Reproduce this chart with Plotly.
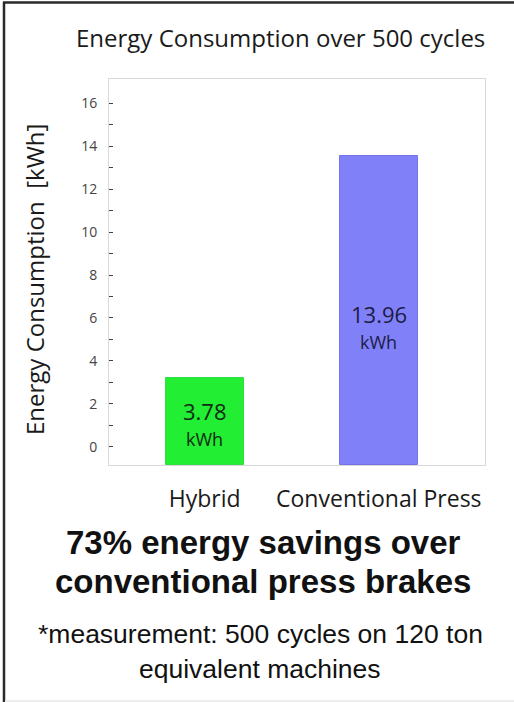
import plotly.graph_objects as go

# ---- data ----
categories = ["Hybrid", "Conventional Press"]
bar_tops = [3.2, 13.56]           # bar top as drawn on the axis
value_labels = ["3.78", "13.96"]  # printed values
unit_label = "kWh"
bar_colors = ["#22EE33", "#8080F8"]
bar_line_colors = ["#33DD44", "#7474E8"]
label_colors = ["#0E2A12", "#1C1C44"]
y_tick_vals = [0, 2, 4, 6, 8, 10, 12, 14, 16]
y_minor_vals = [1, 3, 5, 7, 9, 11, 13, 15]

title_text = "Energy Consumption over 500 cycles"
y_title = "Energy Consumption  [kWh]"
headline = ["73% energy savings over", "conventional press brakes"]
footnote = ["*measurement: 500 cycles on 120 ton", "equivalent machines"]

Y_MIN, Y_MAX = -0.85, 17.13
W, H = 514, 702
L, R, T, B = 109, 485, 79, 465

fig = go.Figure()
fig.add_trace(go.Bar(
    x=categories,
    y=[v - Y_MIN for v in bar_tops],
    base=Y_MIN,
    width=0.448,
    marker=dict(color=bar_colors, line=dict(color=bar_line_colors, width=1)),
    hoverinfo="skip",
    showlegend=False,
))

myriad = "Open Sans, Noto Sans, sans-serif"
arial = "Liberation Sans, Arial, sans-serif"

# bar value labels (number + unit)
label_y = [1.66, 6.2]
for i, cat in enumerate(categories):
    fig.add_annotation(x=cat, y=label_y[i], xref="x", yref="y",
                       text=value_labels[i], showarrow=False,
                       font=dict(family=myriad, size=22, color=label_colors[i]),
                       yanchor="middle", yshift=0)
    fig.add_annotation(x=cat, y=label_y[i], xref="x", yref="y",
                       text=unit_label, showarrow=False,
                       font=dict(family=myriad, size=18, color=label_colors[i]),
                       yanchor="middle", yshift=-28)

# paper coords are relative to the plot area: convert from figure pixels
def px_x(p):
    return (p - L) / (R - L)

def px_y(p):
    return (B - p) / (B - T)

# title
fig.add_annotation(x=px_x(280), y=px_y(37), xref="paper", yref="paper",
                   text=title_text, showarrow=False, xanchor="center", yanchor="middle",
                   font=dict(family=myriad, size=24, color="#1a1a1a"))
# y axis title
fig.add_annotation(x=px_x(34), y=px_y(280), xref="paper", yref="paper",
                   text=y_title, showarrow=False, textangle=-90,
                   xanchor="center", yanchor="middle",
                   font=dict(family=myriad, size=24, color="#1a1a1a"))
# headline
for txt, yy in zip(headline, [542, 581]):
    fig.add_annotation(x=px_x(263), y=px_y(yy), xref="paper", yref="paper",
                       text="<b>" + txt + "</b>", showarrow=False,
                       xanchor="center", yanchor="middle",
                       font=dict(family=arial, size=33, color="#111111"))
# footnote
for txt, yy in zip(footnote, [634, 669]):
    fig.add_annotation(x=px_x(260), y=px_y(yy), xref="paper", yref="paper",
                       text=txt, showarrow=False,
                       xanchor="center", yanchor="middle",
                       font=dict(family=arial, size=26.5, color="#111111"))

# outer frame: left and top dark lines, faint bottom line
fig.add_shape(type="line", xref="paper", yref="paper", x0=px_x(4), x1=px_x(4), y0=px_y(H), y1=px_y(2),
              line=dict(color="#2a2a2a", width=2.5))
fig.add_shape(type="line", xref="paper", yref="paper", x0=px_x(3), x1=px_x(W), y0=px_y(2.5), y1=px_y(2.5),
              line=dict(color="#2a2a2a", width=2.5))
fig.add_shape(type="line", xref="paper", yref="paper", x0=px_x(5), x1=px_x(W), y0=px_y(701), y1=px_y(701),
              line=dict(color="#ececec", width=2))

fig.update_layout(
    width=W, height=H,
    margin=dict(l=L, r=W - R, t=T, b=H - B, pad=0),
    paper_bgcolor="white", plot_bgcolor="white",
    bargap=0,
    xaxis=dict(
        range=[-0.55, 1.61],
        showgrid=False, zeroline=False,
        showline=True, linecolor="#d8d8d8", linewidth=1, mirror=True,
        ticks="", tickfont=dict(family=myriad, size=23, color="#1a1a1a"),
        ticklabelstandoff=13,
    ),
    yaxis=dict(
        range=[Y_MIN, Y_MAX],
        tickvals=y_tick_vals,
        showgrid=False, zeroline=False,
        showline=True, linecolor="#d8d8d8", linewidth=1, mirror=True,
        ticks="inside", ticklen=4, tickcolor="#444444", tickwidth=1,
        minor=dict(tickvals=y_minor_vals, ticks="inside", ticklen=4, tickcolor="#444444", showgrid=False),
        tickfont=dict(family=myriad, size=14, color="#444444"),
        ticklabelstandoff=8,
    ),
)

fig.write_html(
    "out.html",
    config={"displayModeBar": False},
    post_script="document.body.style.margin='0';document.body.style.overflow='hidden';",
)
